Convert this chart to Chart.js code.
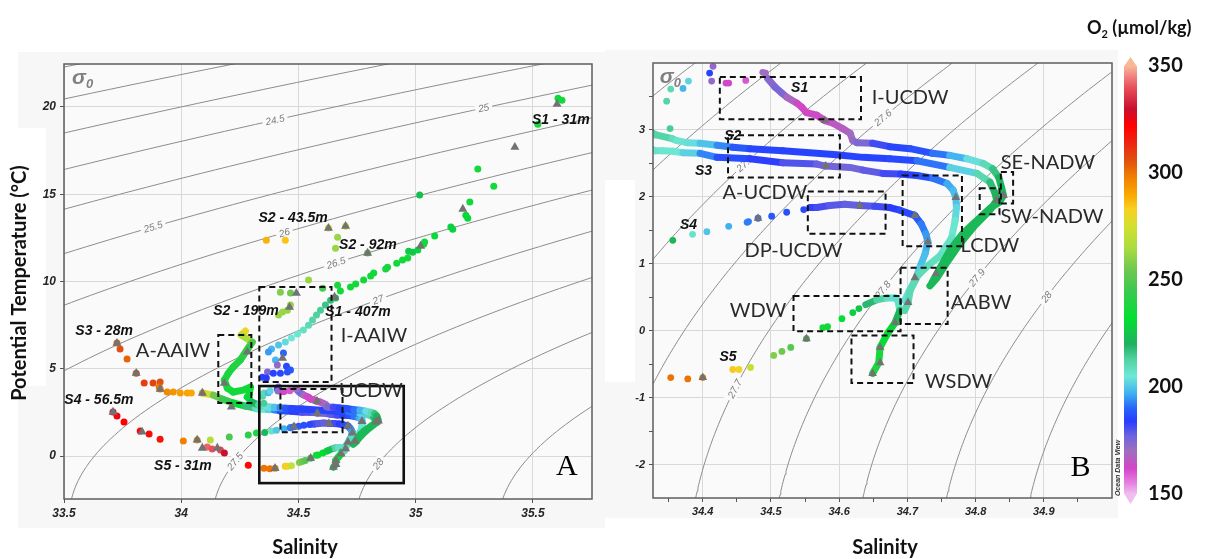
<!DOCTYPE html>
<html><head><meta charset="utf-8">
<script src="https://cdn.jsdelivr.net/npm/chart.js@4/dist/chart.umd.min.js"></script>
<style>
html,body{margin:0;padding:0;background:#fff;}
body{width:1206px;height:559px;position:relative;overflow:hidden;}
.w{position:absolute;top:0;height:559px;}
#wa{left:0;width:612px;}
#wb{left:600px;width:520px;}
#wc{left:1080px;width:126px;}
</style></head><body>
<div class="w" id="wa"><canvas id="ca" width="612" height="559"></canvas></div>
<div class="w" id="wb"><canvas id="cb" width="520" height="559"></canvas></div>
<div class="w" id="wc"><canvas id="cc" width="126" height="559"></canvas></div>
<script>
// ---------------- DATA (salinity, potential temperature °C, O2 µmol/kg) ----------------
const s1DotSal = [35.607,35.624,35.521,35.265,35.333,35.231,35.214,35.222,35.017,35.150,35.158,35.081,35.038,35.034,35.009,34.987,34.970,34.966,34.944,34.919,34.880,34.872,34.821,34.808,34.778,34.744,34.722,34.679,34.667,34.658,
  34.637,34.615,34.594,34.577,34.560,34.543,34.521,34.496,34.470,34.444,34.415,34.385,34.372,34.436,34.402,34.410,34.449,34.368,34.393,34.423,34.453,34.466,34.346,34.363,
  34.415,34.410,34.413,34.434,34.438,34.463,34.488,34.492];
const s1DotTemp = [20.50,20.39,19.01,16.44,15.46,14.55,13.80,13.63,14.95,13.12,13.00,12.60,12.26,12.14,11.80,11.68,11.74,11.34,11.23,11.05,10.82,10.71,10.48,10.31,10.08,9.85,9.68,9.45,9.79,9.05,
  8.93,8.65,8.36,8.08,7.79,7.50,7.22,6.99,6.76,6.53,6.36,6.13,5.96,5.90,5.50,5.21,5.15,4.81,4.75,4.75,4.81,4.93,4.52,4.47,
  3.95,3.85,3.73,3.70,3.70,3.74,3.86,3.85];
const s1DotOxy = [236,236,238,237,236,236,230,230,224,228,228,234,236,236,230,226,226,236,236,236,237,237,236,236,236,236,236,236,238,222,
  218,216,214,213,212,210,208,206,205,203,200,198,195,190,198,172,186,175,185,186,187,188,185,184,
  172,185,172,162,162,160,170,170];
const s1TrailSal = [34.495,34.506,34.516,34.523,34.538,34.545,34.552,34.567,34.579,34.591,34.605,34.616,34.620,34.626,34.649,34.674,34.704,34.737,34.762,34.787,34.811,34.825,34.834,34.838,34.841,34.835,34.821,34.802,34.781,34.762,34.748,34.736];
const s1TrailTemp = [3.77,3.64,3.55,3.49,3.40,3.34,3.26,3.22,3.14,3.10,3.02,2.95,2.84,2.81,2.80,2.75,2.72,2.65,2.62,2.57,2.50,2.42,2.29,2.14,2.02,1.92,1.83,1.65,1.45,1.20,0.94,0.72];
const s1TrailOxy = [172,175,176,174,163,162,162,163,164,165,166,168,172,172,178,185,186,188,195,200,207,213,220,222,222,222,222,222,222,222,222,222];
const s1TriSal = [35.603,35.423,35.201,35.021,34.654,34.432,34.579,34.841,34.742];
const s1TriTemp = [20.16,17.70,14.15,12.03,9.11,5.61,3.14,2.02,0.85];

const s2DotSal = [34.363,34.444,34.628,34.701,34.667,34.658,34.795,34.543,34.603,34.466,34.423,34.466,34.453,34.432,34.415,34.347,34.353,34.371,34.379,34.352];
const s2DotTemp = [12.37,12.37,13.06,13.17,12.54,11.91,11.63,10.08,9.62,9.34,9.39,8.65,8.36,8.25,8.08,3.43,3.61,3.62,3.73,3.02];
const s2DotOxy = [288,285,275,275,262,262,255,262,248,255,258,262,262,262,262,212,210,198,202,214];
const s2TrailSal = [34.274,34.256,34.303,34.286,34.252,34.222,34.201,34.184,34.197,34.222,34.265,34.295,34.290,34.282,34.300,34.330,34.355,34.362,34.377,34.396,34.421,34.444,34.469,34.517,34.567,34.596,34.635,34.674,34.714,34.762,34.802,34.821,34.828,34.831,34.821,34.799,34.777,34.758,34.743,34.733];
const s2TrailTemp = [7.16,6.93,6.53,6.19,5.50,5.10,4.75,4.35,3.89,3.67,3.78,3.95,3.55,3.38,3.10,2.93,2.87,2.84,2.81,2.80,2.77,2.74,2.72,2.69,2.65,2.63,2.59,2.57,2.54,2.44,2.35,2.22,2.07,1.95,1.80,1.57,1.30,1.02,0.78,0.67];
const s2TrailOxy = [285,278,255,242,240,239,238,237,237,236,236,236,235,234,228,214,210,208,205,202,197,190,186,185,185,185,185,185,187,196,207,215,220,222,222,222,222,222,222,222];
const s2TriSal = [34.628,34.701,34.795,34.491,34.462,34.282,34.184,34.831];
const s2TriTemp = [13.06,13.17,11.63,9.33,8.53,5.96,4.18,1.95];

const s3DotSal = [33.726,33.739,33.769,33.808,33.842,33.880,33.910,33.906,33.910,33.940,33.966,33.996,34.026,34.043,34.090];
const s3DotTemp = [6.47,6.13,5.56,4.75,4.18,4.18,4.24,3.95,3.84,3.67,3.67,3.61,3.61,3.61,3.61];
const s3DotOxy = [304,306,303,306,310,308,306,300,298,296,294,292,291,290,288];
const s3TrailSal = [34.090,34.137,34.175,34.222,34.274,34.316,34.330,34.341,34.356,34.371,34.396,34.421,34.469,34.517,34.567,34.580,34.616,34.635,34.664,34.690,34.714,34.737,34.758,34.767,34.771,34.772,34.770,34.765,34.748,34.730,34.715,34.704,34.701,34.696];
const s3TrailTemp = [3.61,3.49,3.26,3.04,2.86,2.75,2.69,2.69,2.68,2.66,2.65,2.59,2.57,2.51,2.49,2.46,2.44,2.40,2.35,2.34,2.32,2.28,2.20,2.10,1.99,1.84,1.65,1.39,1.12,0.97,0.82,0.60,0.42,0.30];
const s3TrailOxy = [285,262,248,240,222,212,208,206,206,205,198,188,185,182,178,177,176,177,180,183,186,188,195,198,199,200,205,207,208,209,210,210,211,212];
const s3TriSal = [33.726,33.808,33.910,34.090,34.214,34.580,34.771,34.711,34.701];
const s3TriTemp = [6.47,4.75,3.84,3.61,2.81,2.46,1.99,0.79,0.42];

const s4DotSal = [33.709,33.726,33.756,33.825,33.863,33.910,34.009,34.068,34.124,34.205,34.286,34.321,34.356,34.385,34.406,34.438,34.465,34.467,34.481,34.501,34.523,34.548];
const s4DotTemp = [2.52,2.29,1.95,1.43,1.26,0.97,0.86,0.92,0.92,1.09,1.20,1.32,1.35,1.44,1.48,1.56,1.62,1.63,1.68,1.71,1.77,1.81];
const s4DotOxy = [328,324,322,320,320,318,298,295,268,248,242,238,222,207,200,197,192,192,190,188,187,186];
const s4TrailSal = [34.557,34.567,34.586,34.608,34.630,34.652,34.674,34.689,34.711,34.720,34.727,34.730,34.726,34.718,34.711,34.703,34.696];
const s4TrailTemp = [1.84,1.84,1.87,1.89,1.87,1.86,1.84,1.80,1.72,1.60,1.45,1.33,1.15,0.94,0.75,0.60,0.45];
const s4TrailOxy = [184,182,180,178,178,180,183,185,187,190,194,196,198,200,202,203,204];
const s4TriSal = [33.709,33.833,34.068,34.481,34.630,34.711,34.730];
const s4TriTemp = [2.52,1.38,0.92,1.68,1.87,1.72,1.33];

const s5DotSal = [34.111,34.132,34.167,34.184,34.286,34.353,34.378,34.400,34.444,34.453,34.470,34.504,34.516,34.529,34.552,34.576,34.583,34.604,34.620,34.629];
const s5DotTemp = [0.52,0.40,0.34,0.17,-0.52,-0.70,-0.72,-0.70,-0.58,-0.58,-0.55,-0.37,-0.31,-0.25,-0.12,0.045,0.06,0.18,0.27,0.33];
const s5DotOxy = [342,340,338,330,320,300,300,298,284,282,272,258,255,250,245,236,236,232,228,225];
const s5TrailSal = [34.639,34.655,34.670,34.682,34.686,34.689,34.682,34.671,34.660,34.658,34.649];
const s5TrailTemp = [0.39,0.46,0.49,0.49,0.45,0.30,0.12,-0.04,-0.25,-0.48,-0.64];
const s5TrailOxy = [222,215,210,206,200,215,228,232,236,238,238];
const s5TriSal = [34.090,34.154,34.400,34.552,34.682,34.660,34.660,34.649];
const s5TriTemp = [0.46,0.46,-0.70,-0.12,0.12,-0.25,-0.48,-0.64];

// axes / ticks
const aSalTicks = [33.5,34,34.5,35,35.5];
const aTempTicks = [0,5,10,15,20];
const bSalTicks = [34.4,34.5,34.6,34.7,34.8,34.9];
const bSalMinor = [34.35,34.45,34.55,34.65,34.75,34.85,34.95];
const bTempTicks = [-2,-1,0,1,2,3];
const bTempMinor = [-1.5,-0.5,0.5,1.5,2.5,3.5];
const o2Ticks = [150,200,250,300,350];
// sigma-0 isopycnal levels and labelled ones
const aSigmaLevels = [23,23.5,24,24.5,25,25.5,26,26.5,27,27.5,28,28.5];
const aSigmaLabels = [24.5,25,25.5,26,26.5,27,27.5,28];
const aSigmaLabelSal = [34.40,35.29,33.88,34.44,34.66,34.84,34.23,34.84];
const bSigmaLevels = [27.2,27.3,27.4,27.5,27.6,27.7,27.8,27.9,28.0,28.1,28.2];
const bSigmaLabels = [27.5,27.6,27.7,27.8,27.9,28];
const bSigmaLabelSal = [34.462,34.664,34.447,34.664,34.802,34.904];

// water-mass boxes [name, Smin, Smax, Tmin, Tmax, dashed]
const aBoxes = [['A-AAIW',34.158,34.299,3.04,6.93,true],['I-AAIW',34.333,34.641,4.24,9.68,true],['UCDW',34.423,34.688,1.37,3.84,true],['all',34.333,34.949,-1.55,4.01,false]];
const bBoxes = [['I-UCDW',34.425,34.632,3.16,3.79,true],['A-UCDW',34.437,34.601,2.29,2.92,true],['DP-UCDW',34.554,34.668,1.45,2.08,true],['LCDW',34.693,34.780,1.26,2.32,true],['SE-NADW',34.837,34.855,1.90,2.37,true],['SW-NADW',34.806,34.835,1.74,2.13,true],['AABW',34.690,34.759,0.10,0.94,true],['WDW',34.533,34.690,-0.01,0.52,true],['WSDW',34.618,34.709,-0.78,-0.07,true]];
// text annotations [text, S, T, kind]
const aTexts = [['A-AAIW',33.965,6.07,'wm'],['I-AAIW',34.822,6.93,'wm'],['UCDW',34.809,3.78,'wm'],['A',35.645,-0.63,'panel'],
  ['S1 - 31m',35.619,19.26,'st'],['S2 - 43.5m',34.477,13.64,'st'],['S2 - 92m',34.796,12.09,'st'],['S2 - 199m',34.276,8.31,'st'],['S1 - 407m',34.754,8.25,'st'],['S3 - 28m',33.671,7.16,'st'],['S4 - 56.5m',33.649,3.21,'st'],['S5 - 31m',34.007,-0.57,'st']];
const bTexts = [['I-UCDW',34.704,3.48,'wm'],['A-UCDW',34.491,2.06,'wm'],['DP-UCDW',34.533,1.20,'wm'],['SE-NADW',34.906,2.51,'wm'],['SW-NADW',34.912,1.70,'wm'],['LCDW',34.821,1.27,'wm'],['AABW',34.808,0.42,'wm'],['WDW',34.481,0.30,'wm'],['WSDW',34.775,-0.76,'wm'],['B',34.954,-2.05,'panel'],
  ['S1',34.542,3.63,'stb'],['S2',34.444,2.90,'stb'],['S3',34.401,2.38,'stb'],['S4',34.379,1.58,'stb'],['S5',34.437,-0.40,'stb']];

// ---------------- colour map (ODV-like) ----------------
const O2_STOPS = [[150,[240,190,240]],[155,[230,130,225]],[162,[210,70,200]],[170,[160,110,190]],[177,[110,100,220]],[184,[40,60,255]],[190,[40,100,250]],[197,[64,176,240]],[205,[112,232,216]],[213,[80,210,160]],[220,[32,176,96]],[232,[0,224,48]],[245,[60,200,80]],[255,[110,200,80]],[265,[170,220,64]],[275,[210,224,48]],[283,[248,208,32]],[290,[248,168,0]],[298,[240,128,0]],[306,[224,80,16]],[315,[240,32,16]],[322,[255,0,0]],[330,[200,16,46]],[340,[232,80,90]],[345,[240,128,128]],[350,[248,184,150]]];
function o2Color(v){
  if(v<=O2_STOPS[0][0]) return 'rgb('+O2_STOPS[0][1].join(',')+')';
  for(let i=1;i<O2_STOPS.length;i++){
    const [v1,c1]=O2_STOPS[i]; if(v<=v1){const [v0,c0]=O2_STOPS[i-1]; const f=(v-v0)/(v1-v0);
      return 'rgb('+c0.map((c,k)=>Math.round(c+(c1[k]-c)*f)).join(',')+')';}
  }
  return 'rgb('+O2_STOPS[O2_STOPS.length-1][1].join(',')+')';
}
// ---------------- sigma-0 (UNESCO EOS-80, p=0) ----------------
function sigma0(S,T){
  const T2=T*T,T3=T2*T,T4=T3*T,T5=T4*T;
  const rw=999.842594+6.793952e-2*T-9.095290e-3*T2+1.001685e-4*T3-1.120083e-6*T4+6.536332e-9*T5;
  const A=8.24493e-1-4.0899e-3*T+7.6438e-5*T2-8.2467e-7*T3+5.3875e-9*T4;
  const B=-5.72466e-3+1.0227e-4*T-1.6546e-6*T2;
  return rw+A*S+B*S*Math.sqrt(S)+4.8314e-4*S*S-1000;
}
function salOnIsopycnal(lv,T){let lo=20,hi=42;for(let i=0;i<50;i++){const m=(lo+hi)/2;if(sigma0(m,T)<lv)lo=m;else hi=m;}return (lo+hi)/2;}
function tempOnIsopycnal(lv,S){let lo=-3,hi=40;for(let i=0;i<50;i++){const m=(lo+hi)/2;if(sigma0(S,m)>lv)lo=m;else hi=m;}return (lo+hi)/2;}

function contourSets(levels,tMin,tMax,step){
  return levels.map(lv=>{const pts=[];for(let t=tMin;t<=tMax+1e-9;t+=step)pts.push({x:salOnIsopycnal(lv,t),y:t});
    return {data:pts,showLine:true,pointRadius:0,borderColor:'#8d8d8d',borderWidth:1,order:10,clip:0};});
}
const stations = [
  [s1DotSal,s1DotTemp,s1DotOxy,s1TrailSal,s1TrailTemp,s1TrailOxy,s1TriSal,s1TriTemp],
  [s2DotSal,s2DotTemp,s2DotOxy,s2TrailSal,s2TrailTemp,s2TrailOxy,s2TriSal,s2TriTemp],
  [s3DotSal,s3DotTemp,s3DotOxy,s3TrailSal,s3TrailTemp,s3TrailOxy,s3TriSal,s3TriTemp],
  [s4DotSal,s4DotTemp,s4DotOxy,s4TrailSal,s4TrailTemp,s4TrailOxy,s4TriSal,s4TriTemp],
  [s5DotSal,s5DotTemp,s5DotOxy,s5TrailSal,s5TrailTemp,s5TrailOxy,s5TriSal,s5TriTemp]];
function stationSets(r,w,tr){
  const sets=[];
  stations.forEach(([ds,dt,dox,ts,tt,tox,gs,gt])=>{
    sets.push({data:ts.map((s,i)=>({x:s,y:tt[i]})),showLine:true,pointRadius:0,borderWidth:w,borderCapStyle:'round',borderJoinStyle:'round',
      borderColor:o2Color(tox[0]),segment:{borderColor:c=>o2Color((tox[c.p0DataIndex]+tox[c.p1DataIndex])/2)},order:3,clip:0});
    sets.push({data:ds.map((s,i)=>({x:s,y:dt[i]})),showLine:false,pointRadius:r,pointBackgroundColor:dox.map(o2Color),pointBorderWidth:0,borderWidth:0,order:2,clip:0});
    sets.push({data:gs.map((s,i)=>({x:s,y:gt[i]})),showLine:false,pointStyle:'triangle',pointRadius:tr,pointBackgroundColor:'#727272',pointBorderColor:'#727272',pointBorderWidth:0,order:1,clip:0});
  });
  return sets;
}

const PLOT_BG='#fafafa';
function panelPlugin(cfg){
  return {id:'panel'+cfg.name,
    beforeDraw(chart){const c=chart.ctx,a=chart.chartArea;c.save();
      c.fillStyle='#f7f7f7';c.fillRect(cfg.back[0],cfg.back[1],cfg.back[2],cfg.back[3]);
      c.fillStyle='#ffffff';cfg.white.forEach(r=>c.fillRect(r[0],r[1],r[2],r[3]));
      c.fillStyle=PLOT_BG;c.fillRect(a.left,a.top,a.right-a.left,a.bottom-a.top);c.restore();},
    afterDatasetDraw(chart,args){
      if(args.index!==0)return;
      const c=chart.ctx,xs=chart.scales.x,ys=chart.scales.y,a=chart.chartArea;
      c.save();c.beginPath();c.rect(a.left,a.top,a.right-a.left,a.bottom-a.top);c.clip();
      cfg.labels.forEach((lv,i)=>{const s=cfg.labelSal[i];const t=tempOnIsopycnal(lv,s);const t2=tempOnIsopycnal(lv,s+0.01);
        const px=xs.getPixelForValue(s),py=ys.getPixelForValue(t);const qx=xs.getPixelForValue(s+0.01),qy=ys.getPixelForValue(t2);
        const ang=Math.atan2(qy-py,qx-px);c.save();c.translate(px,py);c.rotate(ang);
        c.font='italic 10px "Liberation Sans"';const txt=String(lv);const wd=c.measureText(txt).width;
        c.fillStyle=PLOT_BG;c.fillRect(-wd/2-3,-6,wd+6,12);c.fillStyle='#7c7c7c';c.textAlign='center';c.textBaseline='middle';c.fillText(txt,0,0.5);c.restore();});
      c.restore();
    },
    afterDraw(chart){
      const c=chart.ctx,xs=chart.scales.x,ys=chart.scales.y,a=chart.chartArea;
      c.save();
      c.strokeStyle='#5e5e5e';c.lineWidth=1.5;c.strokeRect(a.left,a.top,a.right-a.left,a.bottom-a.top);
      // sigma0 symbol
      c.fillStyle='#808080';c.textBaseline='alphabetic';c.textAlign='left';
      c.font='italic bold 21px "Liberation Sans"';const sx=xs.getPixelForValue(cfg.sigma[0]),sy=ys.getPixelForValue(cfg.sigma[1]);
      c.fillText('σ',sx,sy);const sw=c.measureText('σ').width;c.font='italic bold 13px "Liberation Sans"';c.fillText('0',sx+sw,sy+4);
      // boxes
      cfg.boxes.forEach(([n,s0,s1,t0,t1,dash])=>{const x0=xs.getPixelForValue(s0),x1=xs.getPixelForValue(s1),y0=ys.getPixelForValue(t1),y1=ys.getPixelForValue(t0);
        c.setLineDash(dash?[6,4]:[]);c.lineWidth=dash?2:2.6;c.strokeStyle='#111';c.strokeRect(x0,y0,x1-x0,y1-y0);});
      c.setLineDash([]);
      cfg.texts.forEach(([txt,s,t,k])=>{const x=xs.getPixelForValue(s),y=ys.getPixelForValue(t);c.textAlign='center';c.textBaseline='middle';
        if(k==='wm'){c.font='20px Lato';c.fillStyle='#2a2a2a';}
        else if(k==='panel'){c.font='30px "Liberation Serif"';c.fillStyle='#000';}
        else {c.font='italic bold 14px "Liberation Sans"';c.fillStyle='#111';}
        c.fillText(txt,x,y);});
      c.font='bold 20px Lato';c.fillStyle='#111';c.textAlign='center';c.textBaseline='middle';
      if(cfg.xTitle){c.fillText(cfg.xTitle[0],cfg.xTitle[1],cfg.xTitle[2]);}
      if(cfg.yTitle){c.translate(cfg.yTitle[1],cfg.yTitle[2]);c.rotate(-Math.PI/2);c.fillText(cfg.yTitle[0],0,0);}
      c.restore();
    }};
}
function tickList(major,minor){const t=major.map(v=>({value:v,major:true}));(minor||[]).forEach(v=>t.push({value:v,major:false}));t.sort((p,q)=>p.value-q.value);return t;}
function axisOpts(min,max,major,minor,fit,isX,fs){
  return {type:'linear',min,max,
    afterBuildTicks(s){s.ticks=tickList(major,minor);},
    afterFit(s){if(isX)s.height=fit;else s.width=fit;},
    ticks:{autoSkip:false,maxRotation:0,padding:isX?3:4,color:'#262626',font:{family:'Liberation Sans',size:fs,style:'italic',weight:'bold'},
      callback:(v,i,t)=>t[i].major?String(v):''},
    grid:{color:c=>c.tick&&c.tick.major?'#d9d9d9':'rgba(0,0,0,0)',tickColor:'#555',tickLength:4,lineWidth:1},
    border:{display:false}};
}
Chart.defaults.font.family='Lato';

// ---------- Panel A ----------
new Chart(document.getElementById('ca'),{type:'scatter',
  data:{datasets:contourSets(aSigmaLevels,-2.6,22.6,0.2).concat(stationSets(3.5,7,5.2))},
  options:{responsive:false,animation:false,events:[],
    layout:{padding:{left:0,right:20,top:64,bottom:0}},
    plugins:{legend:{display:false},tooltip:{enabled:false}},
    scales:{x:axisOpts(33.5,35.752,aSalTicks,null,60,true,12),
            y:axisOpts(-2.46,22.46,aTempTicks,null,64,false,12)}},
  plugins:[panelPlugin({name:'A',back:[18,52,587,476],white:[[0,128,46,258]],labels:aSigmaLabels,labelSal:aSigmaLabelSal,boxes:aBoxes,texts:aTexts,sigma:[33.534,21.3],
    xTitle:['Salinity',305,548],yTitle:['Potential Temperature (°C)',20,283]})]
});
// ---------- Panel B ----------
new Chart(document.getElementById('cb'),{type:'scatter',
  data:{datasets:contourSets(bSigmaLevels,-2.6,4.1,0.05).concat(stationSets(3.4,7,5))},
  options:{responsive:false,animation:false,events:[],
    layout:{padding:{left:0,right:8,top:63,bottom:0}},
    plugins:{legend:{display:false},tooltip:{enabled:false}},
    scales:{x:axisOpts(34.327,35.0,bSalTicks,bSalMinor,61,true,11),
            y:axisOpts(-2.5,4.0,bTempTicks,bTempMinor,53,false,11)}},
  plugins:[panelPlugin({name:'B',back:[5,50,513,468],white:[[5,180,30,202]],labels:bSigmaLabels,labelSal:bSigmaLabelSal,boxes:bBoxes,texts:bTexts,sigma:[34.337,3.70],xTitle:['Salinity',285,548]})]
});
// ---------- Colour bar ----------
const cbPlugin={id:'cbar',
  afterDatasetsDraw(chart){const c=chart.ctx;const bar=chart.getDatasetMeta(0).data[0];const ys=chart.scales.y;
    const xl=bar.x-bar.width/2,xr=bar.x+bar.width/2,yt=ys.getPixelForValue(350),yb=ys.getPixelForValue(150);
    c.save();c.fillStyle=o2Color(350);c.beginPath();c.moveTo(xl,yt+0.5);c.lineTo(xr,yt+0.5);c.lineTo(bar.x,yt-9);c.closePath();c.fill();
    c.fillStyle=o2Color(150);c.beginPath();c.moveTo(xl,yb-0.5);c.lineTo(xr,yb-0.5);c.lineTo(bar.x,yb+10);c.closePath();c.fill();
    // title O2 (µmol/kg)
    c.fillStyle='#111';c.textBaseline='alphabetic';c.textAlign='left';
    c.font='bold 18px Lato';let x=7;const y=34;c.fillText('O',x,y);x+=c.measureText('O').width;
    c.font='bold 11px Lato';c.fillText('2',x,y+4);x+=c.measureText('2').width;
    c.font='bold 18px Lato';c.fillText(' (µmol/kg)',x,y);
    // ODV credit
    c.translate(38,468);c.rotate(-Math.PI/2);c.font='italic bold 7px "Liberation Sans"';c.fillStyle='#333';c.textAlign='center';c.textBaseline='middle';c.fillText('Ocean Data View',0,0);
    c.restore();}};
new Chart(document.getElementById('cc'),{type:'bar',
  data:{labels:[''],datasets:[{data:[[150,350]],barThickness:13,borderWidth:0,
    backgroundColor:(ctx)=>{const ch=ctx.chart;if(!ch.chartArea)return '#888';const ys=ch.scales.y;
      const g=ch.ctx.createLinearGradient(0,ys.getPixelForValue(150),0,ys.getPixelForValue(350));
      O2_STOPS.forEach(([v])=>g.addColorStop((v-150)/200,o2Color(v)));return g;}}]},
  options:{responsive:false,animation:false,events:[],
    layout:{padding:{left:44,right:0,top:66,bottom:65}},
    plugins:{legend:{display:false},tooltip:{enabled:false}},
    scales:{x:{display:false},
      y:{position:'right',min:150,max:350,afterBuildTicks(s){s.ticks=o2Ticks.map(v=>({value:v}));},afterFit(s){s.width=69;},
        ticks:{padding:11,color:'#111',font:{family:'Lato',size:20,weight:'bold'}},grid:{display:false,drawTicks:false},border:{display:false}}}},
  plugins:[cbPlugin]
});
</script>
</body></html>
